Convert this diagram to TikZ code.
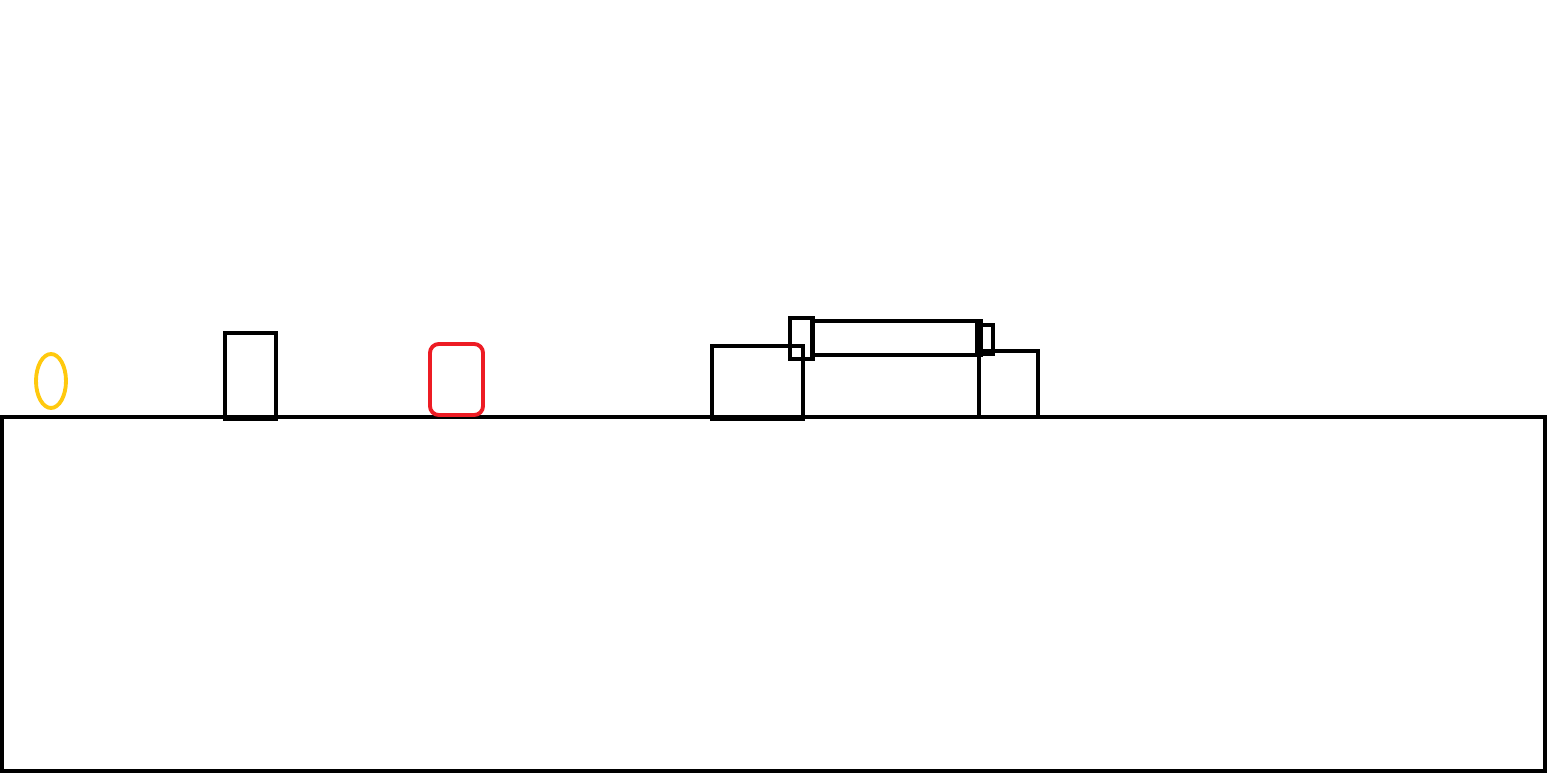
\documentclass[tikz,border=0pt]{standalone}
\usepackage{tikz}
\definecolor{lampyellow}{HTML}{FFC90E}
\definecolor{boxred}{HTML}{ED1C24}
\tikzset{
  outline/.style={draw=black,line width=1.4pt},
  ring/.style={draw=lampyellow,line width=1.1pt},
  softbox/.style={draw=boxred,line width=1.1pt,rounded corners=2.5pt},
}
\begin{document}
\begin{tikzpicture}[x=0.01cm,y=-0.01cm]
  \useasboundingbox (0,0) rectangle (1547,776);
  % base block
  \draw[outline] (2,417) rectangle (1545,771);
  % items on top
  \draw[ring] (51,381) ellipse [x radius=15,y radius=27];
  \draw[outline] (225,333) rectangle (276,419);
  \draw[softbox] (430,344) rectangle (483,415);
  \draw[outline] (712,346) rectangle (803,419);
  \draw[outline] (979,351) rectangle (1038,417);
  % bar resting across the two blocks
  \draw[outline] (812,321) rectangle (981,355);
  \draw[outline] (790,318) rectangle (813,359);
  \draw[outline] (977,325) rectangle (993,354);
\end{tikzpicture}
\end{document}
